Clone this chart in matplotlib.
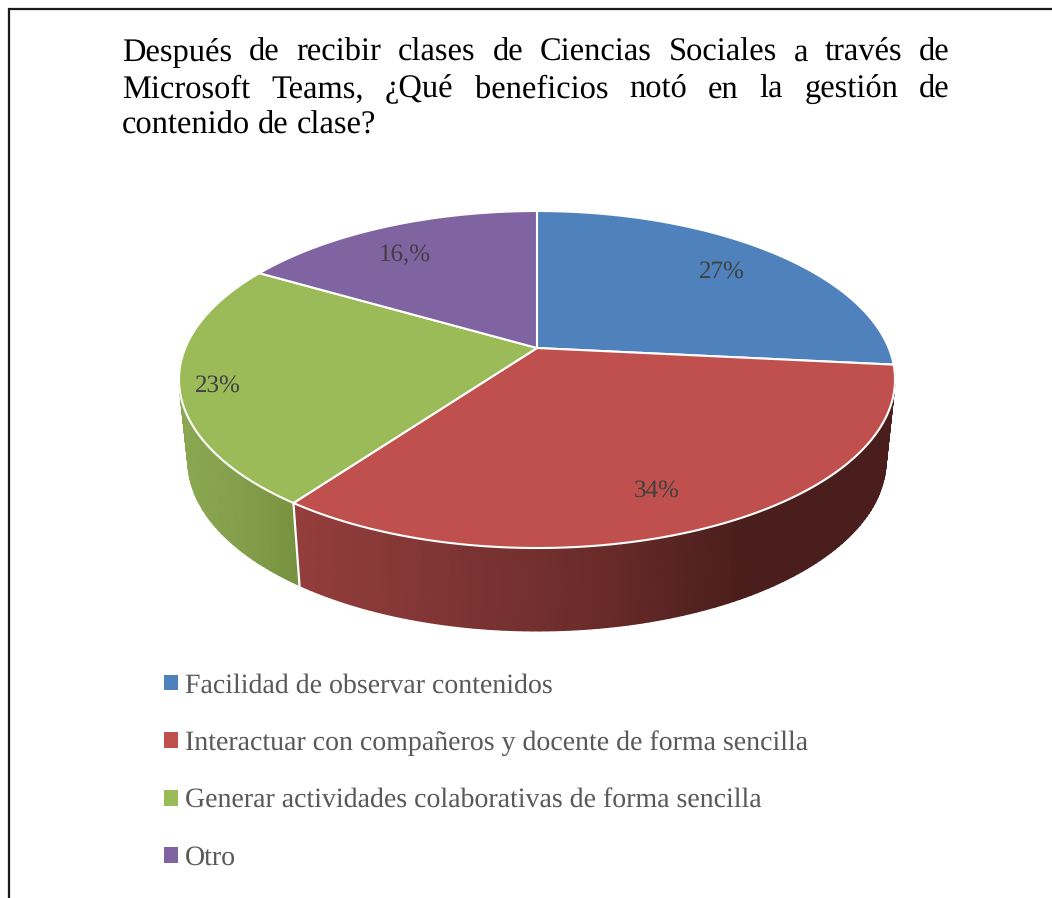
import numpy as np
import matplotlib
matplotlib.use("Agg")
import matplotlib.pyplot as plt
from matplotlib.colors import LinearSegmentedColormap
from matplotlib.patches import Patch

plt.rcParams["text.hinting"] = "none"

# valores (las etiquetas van redondeadas)
categorias = ["Facilidad de observar contenidos",
              "Interactuar con compañeros y docente de forma sencilla",
              "Generar actividades colaborativas de forma sencilla",
              "Otro"]
valores = [26.6, 33.4, 23.4, 16.6]
etiquetas = ["27%", "34%", "23%", "16,%"]
etiqueta_x = [722, 657, 218, 405]
etiqueta_y = [272, 491, 386, 255]
colores = ["#4f81bd", "#c0504d", "#9bbb59", "#8064a2"]

titulo = [("Después de recibir clases de Ciencias Sociales a través de", True),
          ("Microsoft Teams, ¿Qué beneficios notó en la gestión de", True),
          ("contenido de clase?", False)]
titulo_y = [61, 97.5, 134]

# degradado de la pared lateral: solo se ven rojo y verde
pared = {1: ["#943e3d", "#7f3534", "#6b2c2a", "#4a1e1c", "#4a1e1c"],
         2: ["#8ba852", "#84a04c", "#76923f"]}

# perspectiva del disco
CX = 537
APEX_Y = 348
D = 351.7
A = 162.6
C = 0.187


def punto(theta, sx=1.0, sy=1.0, apex=APEX_Y):
    # theta en grados, horario desde las 12
    t = np.radians(theta)
    u, v = np.sin(t), np.cos(t)
    w = 1 + C * v
    return CX + sx * D * u / w, apex - sy * A * v / w


fig = plt.figure(figsize=(10.52, 8.98), dpi=100)
ax = fig.add_axes([0, 0, 1, 1])
ax.set_xlim(0, 1052)
ax.set_ylim(898, 0)
ax.axis("off")

# marco del documento
ax.axhline(8.5, xmin=8 / 1052, color="#1a1a1a", lw=1.6, solid_capstyle="butt")
ax.axvline(8.5, ymin=0, ymax=1 - 8 / 898, color="#1a1a1a", lw=1.6,
           solid_capstyle="butt")

limites = np.concatenate([[0], np.cumsum(valores)]) / sum(valores) * 360

# pared lateral
for i, cols in pared.items():
    th = np.linspace(limites[i], limites[i + 1], 120)
    x1, y1 = punto(th)
    x2, y2 = punto(th, sx=0.975, sy=1.01, apex=429)
    X = np.vstack([x1, x2])
    Y = np.vstack([y1, y2])
    cmap = LinearSegmentedColormap.from_list(f"pared{i}", cols)
    ax.pcolormesh(X, Y, X, cmap=cmap, shading="gouraud", zorder=2,
                  vmin=X.min(), vmax=X.max())

# costura blanca entre verde y rojo
xa, ya = punto(limites[2])
xb, yb = punto(limites[2], sx=0.975, sy=1.01, apex=429)
ax.plot([xa, xb], [ya, yb], color="white", lw=1.6, zorder=3)

# cara superior
for i, col in enumerate(colores):
    th = np.linspace(limites[i], limites[i + 1], 200)
    x, y = punto(th)
    ax.fill(np.r_[CX, x], np.r_[APEX_Y, y], facecolor=col, edgecolor="white",
            lw=1.5, joinstyle="round", zorder=4)

for txt, x, y in zip(etiquetas, etiqueta_x, etiqueta_y):
    ax.text(x, y, txt, ha="center", va="center", fontsize=18,
            family="Liberation Serif", color="#404040", zorder=5)

# titulo justificado palabra a palabra
r = fig.canvas.get_renderer()
IZQ, DER = 122, 950
for (linea, justificar), y in zip(titulo, titulo_y):
    palabras = linea.split(" ")
    textos = [ax.text(0, y, p, fontsize=23.45, family="Liberation Serif",
                      color="black", va="baseline") for p in palabras]
    anchos = [t.get_window_extent(r).width for t in textos]
    if justificar:
        hueco = (DER - IZQ - sum(anchos)) / (len(palabras) - 1)
    else:
        hueco = 0.25 * 23.45 / 0.72
    x = IZQ
    for t, an in zip(textos, anchos):
        t.set_x(x)
        x += an + hueco

handles = [Patch(facecolor=c, edgecolor="none") for c in colores]
leg = ax.legend(handles, categorias, loc="upper left",
                bbox_to_anchor=(164 / 1052, 1 - 673 / 898),
                frameon=False, borderpad=0, borderaxespad=0,
                handlelength=0.5, handleheight=0.5, handletextpad=0.25,
                labelspacing=1.15,
                prop={"family": "Liberation Serif", "size": 20.05})
for t in leg.get_texts():
    t.set_color("#595959")

fig.savefig("out.png", dpi=100)
